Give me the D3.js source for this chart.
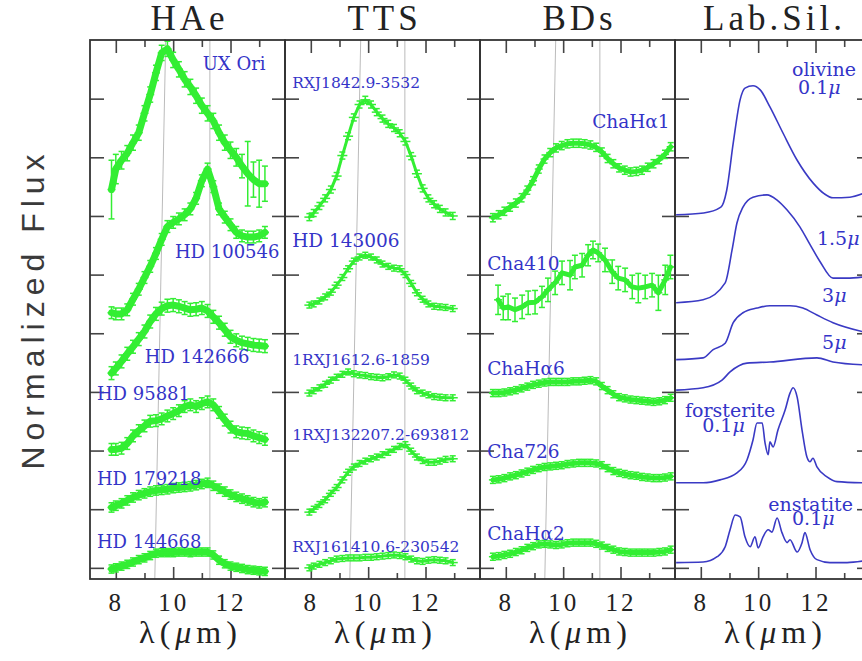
<!DOCTYPE html>
<html>
<head>
<meta charset="utf-8">
<title>Silicate emission features</title>
<script src="https://d3js.org/d3.v7.min.js"></script>
<style>
  body { margin: 0; background: #fff; }
  .title { font-family: "Liberation Serif", serif; font-size: 35px; fill: #222; letter-spacing: 4px; }
  .tick text { font-family: "Liberation Serif", serif; font-size: 25px; fill: #222; letter-spacing: 3px; }
  .tick line { stroke: #444; stroke-width: 1.6; }
  .xlab { font-family: "Liberation Serif", serif; font-size: 32px; fill: #222; letter-spacing: 5px; }
  .ylab { font-family: "Liberation Sans", sans-serif; font-size: 32px; fill: #3a3a3a; letter-spacing: 6px; }
  .name { font-family: "DejaVu Serif", serif; fill: #3434c8; }
  .frame { fill: none; stroke: #333; stroke-width: 1.8; }
  .guide { stroke: #bbb; stroke-width: 1; }
  .spec { fill: none; stroke: #3e3; stroke-linejoin: round; stroke-linecap: round; }
  .bar { stroke: #3e3; stroke-width: 1.5; }
  .lab { fill: none; stroke: #3a3ac4; stroke-width: 1.6; }
</style>
</head>
<body>
<div id="chart"></div>
<script>
// wavelength grids (micron)
var gridHAe = [7.85,8.0,8.2,8.4,8.6,8.8,9.0,9.2,9.4,9.6,9.8,10.0,10.2,10.4,10.6,10.8,11.0,11.2,11.4,11.6,11.8,12.0,12.2,12.4,12.6,12.8,13.0,13.2];
var gridTTS = [7.95,8.1,8.3,8.5,8.7,8.9,9.1,9.3,9.5,9.7,9.9,10.1,10.3,10.5,10.7,10.9,11.1,11.3,11.5,11.7,11.9,12.1,12.3,12.5,12.7,12.95];
var gridBD = [7.55,7.75,7.95,8.15,8.35,8.55,8.75,8.95,9.15,9.35,9.55,9.75,9.95,10.15,10.35,10.55,10.75,10.95,11.15,11.35,11.55,11.75,11.95,12.15,12.35,12.55,12.75,12.95,13.15,13.35,13.55,13.75];

// HAe stars (normalized flux + offset)
var uxOri = [6.45,6.8,6.95,7.07,7.25,7.42,7.75,8.07,8.44,8.78,8.85,8.66,8.5,8.33,8.2,8.05,7.88,7.75,7.62,7.42,7.25,7.12,7.0,6.85,6.72,6.62,6.55,6.55];
var uxOriErr = [0.5,0.25,0.15,0.13,0.13,0.13,0.13,0.13,0.13,0.13,0.13,0.13,0.13,0.13,0.13,0.13,0.13,0.13,0.13,0.13,0.13,0.14,0.15,0.2,0.55,0.3,0.4,0.3];
var hd100546 = [4.35,4.33,4.33,4.4,4.58,4.75,4.95,5.14,5.36,5.6,5.82,5.89,5.95,6.02,6.12,6.3,6.6,6.8,6.5,6.12,5.98,5.85,5.72,5.66,5.64,5.64,5.66,5.72];
var hd142666 = [3.32,3.4,3.52,3.65,3.77,3.9,4.03,4.2,4.33,4.42,4.47,4.48,4.46,4.43,4.4,4.41,4.43,4.38,4.28,4.18,4.06,3.94,3.88,3.84,3.82,3.8,3.79,3.78];
var hd95881 = [2.02,2.02,2.04,2.12,2.25,2.34,2.42,2.5,2.51,2.54,2.59,2.63,2.68,2.75,2.78,2.75,2.8,2.83,2.78,2.65,2.52,2.4,2.32,2.3,2.29,2.25,2.22,2.19];
var hd179218 = [1.03,1.06,1.1,1.15,1.2,1.24,1.27,1.3,1.32,1.33,1.34,1.36,1.37,1.38,1.39,1.41,1.43,1.45,1.4,1.35,1.3,1.25,1.21,1.18,1.15,1.12,1.1,1.12];
var hd144668 = [-0.02,0.0,0.03,0.06,0.1,0.14,0.17,0.21,0.25,0.26,0.26,0.26,0.27,0.27,0.26,0.27,0.27,0.27,0.22,0.13,0.07,0.03,0.01,-0.01,-0.03,-0.04,-0.05,-0.06];

// T Tauri stars
var rxj1842 = [5.98,6.05,6.17,6.3,6.45,6.68,7.03,7.36,7.68,7.9,7.98,7.9,7.77,7.66,7.57,7.5,7.41,7.27,7.02,6.72,6.47,6.3,6.2,6.12,6.06,6.0];
var hd143006 = [4.48,4.5,4.55,4.62,4.7,4.82,4.95,5.1,5.23,5.3,5.33,5.3,5.25,5.18,5.14,5.11,5.1,5.0,4.85,4.69,4.58,4.5,4.46,4.45,4.44,4.42];
var rxj1612 = [2.98,3.02,3.07,3.13,3.2,3.25,3.3,3.34,3.31,3.29,3.28,3.26,3.25,3.24,3.26,3.29,3.27,3.2,3.1,3.02,2.98,2.95,2.92,2.91,2.9,2.9];
var rxj132207 = [0.95,1.0,1.08,1.16,1.27,1.37,1.5,1.63,1.72,1.78,1.82,1.86,1.89,1.93,1.97,2.02,2.07,2.1,1.99,1.89,1.83,1.8,1.8,1.82,1.85,1.86];
var rxj161410 = [0.0,0.03,0.06,0.09,0.12,0.15,0.16,0.17,0.17,0.17,0.18,0.18,0.19,0.2,0.21,0.22,0.21,0.19,0.15,0.12,0.11,0.13,0.14,0.13,0.12,0.09];

// brown dwarfs
var chaHa1 = [5.97,6.02,6.08,6.15,6.22,6.31,6.44,6.6,6.8,6.97,7.08,7.16,7.2,7.23,7.24,7.24,7.23,7.21,7.17,7.09,6.98,6.89,6.82,6.78,6.75,6.76,6.78,6.83,6.89,6.96,7.05,7.18];
var cha410X = [7.73,7.91,8.08,8.32,8.57,8.78,9.02,9.26,9.47,9.72,9.96,10.24,10.41,10.66,10.87,11.04,11.22,11.46,11.71,11.92,12.16,12.41,12.62,12.86,13.1,13.32,13.56,13.74];
var cha410 = [4.57,4.43,4.45,4.4,4.45,4.52,4.53,4.62,4.74,4.86,5.03,4.99,5.13,5.16,5.33,5.42,5.37,5.25,5.05,4.94,4.91,4.79,4.77,4.79,4.82,4.69,4.91,5.13];
var cha410Err = [0.25,0.2,0.22,0.2,0.2,0.2,0.2,0.18,0.2,0.2,0.2,0.25,0.2,0.2,0.18,0.15,0.15,0.2,0.2,0.2,0.2,0.2,0.25,0.2,0.2,0.3,0.25,0.2];
var chaHa6 = [2.98,2.98,2.99,3.01,3.03,3.06,3.09,3.12,3.14,3.16,3.17,3.17,3.17,3.17,3.18,3.18,3.19,3.2,3.18,3.1,3.03,2.96,2.91,2.89,2.87,2.86,2.85,2.84,2.83,2.84,2.86,2.9];
var cha726 = [1.5,1.51,1.53,1.56,1.58,1.61,1.64,1.67,1.7,1.72,1.73,1.74,1.75,1.77,1.78,1.79,1.79,1.79,1.78,1.75,1.7,1.65,1.62,1.6,1.58,1.57,1.55,1.54,1.53,1.53,1.54,1.56];
var chaHa2 = [0.19,0.2,0.22,0.24,0.27,0.3,0.34,0.37,0.4,0.41,0.4,0.39,0.4,0.42,0.43,0.43,0.43,0.43,0.41,0.38,0.34,0.31,0.28,0.27,0.26,0.26,0.26,0.26,0.26,0.27,0.28,0.31];

// laboratory silicates
var olivine01X = [7.14,8.1,8.7,8.9,9.13,9.37,9.54,9.82,10.07,10.41,10.87,11.36,11.92,12.3,12.61,13.2,13.7];
var olivine01 = [6.02,6.05,6.15,6.43,7.24,7.98,8.18,8.22,8.15,7.86,7.41,6.95,6.56,6.38,6.31,6.32,6.39];
var olivine15X = [7.14,8.08,8.85,9.09,9.26,9.47,9.82,10.31,10.66,11.01,11.46,11.81,12.16,12.61,13.1,13.7];
var olivine15 = [4.52,4.57,4.86,5.42,5.88,6.15,6.32,6.36,6.27,6.1,5.81,5.51,5.22,4.94,4.94,4.96];
var olivine3X = [7.14,8.08,8.43,8.85,9.13,9.47,9.96,10.41,11.11,11.56,12.05,12.61,13.7];
var olivine3 = [3.55,3.58,3.72,3.83,4.18,4.35,4.43,4.47,4.47,4.43,4.31,4.18,4.02];
var olivine5X = [7.14,8.08,8.74,9.02,9.61,10.41,12.05,12.61,13.7];
var olivine5 = [3.03,3.07,3.2,3.34,3.49,3.51,3.58,3.51,3.46];
var forsteriteX = [7.14,8.08,8.67,9.26,9.61,9.82,9.96,10.14,10.24,10.35,10.41,10.52,10.69,10.94,11.11,11.22,11.36,11.53,11.7,11.81,11.91,12.05,12.4,12.75,13.7];
var forsterite = [1.45,1.45,1.5,1.62,1.84,2.18,2.47,2.47,2.13,1.93,2.15,2.06,2.35,2.69,2.98,3.07,2.91,2.35,1.89,1.81,1.87,1.72,1.55,1.47,1.45];
var enstatiteX = [7.14,8.08,8.57,8.85,9.02,9.2,9.37,9.54,9.72,9.89,10.0,10.17,10.35,10.48,10.66,10.83,11.01,11.11,11.36,11.53,11.63,11.81,12.05,12.5,13.1,13.7];
var enstatite = [0.09,0.1,0.19,0.36,0.65,0.9,0.87,0.53,0.36,0.53,0.34,0.53,0.65,0.61,0.85,0.6,0.43,0.48,0.27,0.43,0.6,0.31,0.14,0.09,0.09,0.12];

// axes
var panelTitles = ["HAe", "TTS", "BDs", "Lab.Sil."];
var majorTicks = [8, 10, 12];
var minorTicks = [9, 11, 13];
var yTicks = [0, 1, 2, 3, 4, 5, 6, 7, 8];
var guideTop = [9.74, 11.28];
var guideBottom = [9.36, 11.28];

var chartW = 862, chartH = 661;
var panelLeft = 90, panelW = 195, frameTop = 40, frameBottom = 579;

var svg = d3.select("#chart").append("svg")
    .attr("width", chartW)
    .attr("height", chartH);

var x = d3.scaleLinear().domain([7.1, 13.9]).range([0, panelW]);
var y = d3.scaleLinear().domain([-0.19, 9]).range([frameBottom, frameTop]);

// band = stroke width of the joined points, arm = half width of the crosses
var panels = [
  { band: 7, arm: 4,
    green: [
      {x: gridHAe, y: uxOri, err: uxOriErr},
      {x: gridHAe, y: hd100546, err: 0.1},
      {x: gridHAe, y: hd142666, err: 0.11},
      {x: gridHAe, y: hd95881, err: 0.1},
      {x: gridHAe, y: hd179218, err: 0.08},
      {x: gridHAe, y: hd144668, err: 0.07}],
    names: [
      {t: "UX Ori", x: 11.03, y: 8.49, s: 18},
      {t: "HD 100546", x: 10.06, y: 5.28, s: 18},
      {t: "HD 142666", x: 9.01, y: 3.49, s: 18},
      {t: "HD 95881", x: 7.34, y: 2.86, s: 18},
      {t: "HD 179218", x: 7.34, y: 1.41, s: 18},
      {t: "HD 144668", x: 7.34, y: 0.34, s: 18}] },
  { band: 3, arm: 5,
    green: [
      {x: gridTTS, y: rxj1842, err: 0.06},
      {x: gridTTS, y: hd143006, err: 0.05},
      {x: gridTTS, y: rxj1612, err: 0.05},
      {x: gridTTS, y: rxj132207, err: 0.05},
      {x: gridTTS, y: rxj161410, err: 0.05}],
    names: [
      {t: "RXJ1842.9-3532", x: 7.35, y: 8.18, s: 15.5},
      {t: "HD 143006", x: 7.35, y: 5.47, s: 18.5},
      {t: "1RXJ1612.6-1859", x: 7.35, y: 3.46, s: 15.5},
      {t: "1RXJ132207.2-693812", x: 7.35, y: 2.18, s: 15.5},
      {t: "RXJ161410.6-230542", x: 7.35, y: 0.27, s: 15.5}] },
  { band: 5, arm: 4,
    green: [
      {x: gridBD, y: chaHa1, err: 0.07},
      {x: cha410X, y: cha410, err: cha410Err},
      {x: gridBD, y: chaHa6, err: 0.06},
      {x: gridBD, y: cha726, err: 0.06},
      {x: gridBD, y: chaHa2, err: 0.06}],
    names: [
      {t: "ChaHα1", x: 11.01, y: 7.5, s: 18.5},
      {t: "Cha410", x: 7.35, y: 5.08, s: 18.5},
      {t: "ChaHα6", x: 7.35, y: 3.29, s: 18.5},
      {t: "Cha726", x: 7.35, y: 1.87, s: 18.5},
      {t: "ChaHα2", x: 7.35, y: 0.48, s: 18.5}] },
  { blue: [
      {x: olivine01X, y: olivine01},
      {x: olivine15X, y: olivine15},
      {x: olivine3X, y: olivine3},
      {x: olivine5X, y: olivine5},
      {x: forsteriteX, y: forsterite},
      {x: enstatiteX, y: enstatite}],
    names: [
      {t: "olivine", x: 11.18, y: 8.39, s: 19},
      {t: "0.1|μ", x: 11.39, y: 8.08, s: 19},
      {t: "1.5|μ", x: 12.05, y: 5.5, s: 19},
      {t: "3|μ", x: 12.23, y: 4.53, s: 19},
      {t: "5|μ", x: 12.23, y: 3.73, s: 19},
      {t: "forsterite", x: 7.45, y: 2.57, s: 19},
      {t: "0.1|μ", x: 8.05, y: 2.32, s: 19},
      {t: "enstatite", x: 10.35, y: 0.97, s: 19},
      {t: "0.1|μ", x: 11.18, y: 0.73, s: 19}] }
];

panels.forEach(function(p, i) {
  var g = svg.append("g").attr("transform", "translate(" + (panelLeft + i * panelW) + ",0)");

  // slanted reference lines for the 9.7 / 11.3 micron features
  if (p.green) {
    g.selectAll(".guide").data(guideTop).enter().append("line")
      .attr("class", "guide")
      .attr("x1", function(d) { return x(d); }).attr("y1", frameTop)
      .attr("x2", function(d, j) { return x(guideBottom[j]); }).attr("y2", frameBottom);
  }

  // ticks, inward on all four sides
  var tb = g.append("g").attr("transform", "translate(0," + frameBottom + ")");
  tb.call(d3.axisBottom(x).tickValues(majorTicks).tickSizeInner(-12).tickSizeOuter(0)
    .tickPadding(14).tickFormat(d3.format("d")));
  tb.append("g").call(d3.axisBottom(x).tickValues(minorTicks).tickSizeInner(-6).tickSizeOuter(0).tickFormat(""));
  var tt = g.append("g").attr("transform", "translate(0," + frameTop + ")");
  tt.call(d3.axisTop(x).tickValues(majorTicks).tickSizeInner(-13).tickSizeOuter(0).tickFormat(""));
  tt.append("g").call(d3.axisTop(x).tickValues(minorTicks).tickSizeInner(-7).tickSizeOuter(0).tickFormat(""));
  g.append("g").call(d3.axisLeft(y).tickValues(yTicks).tickSizeInner(-14).tickSizeOuter(0).tickFormat(""));
  g.append("g").attr("transform", "translate(" + panelW + ",0)")
    .call(d3.axisRight(y).tickValues(yTicks).tickSizeInner(-13).tickSizeOuter(0).tickFormat(""));
  g.selectAll(".domain").remove();

  // observed spectra: thick joined band plus error-bar crosses
  (p.green || []).forEach(function(s) {
    var pts = s.x.map(function(v, k) {
      return {x: v, y: s.y[k], e: Array.isArray(s.err) ? s.err[k] : s.err};
    });
    g.append("path").datum(pts).attr("class", "spec")
      .style("stroke-width", p.band)
      .attr("d", d3.line().x(function(d) { return x(d.x); }).y(function(d) { return y(d.y); }));
    var c = g.append("g").selectAll("g").data(pts).enter().append("g");
    c.append("line").attr("class", "bar")
      .attr("x1", function(d) { return x(d.x); }).attr("x2", function(d) { return x(d.x); })
      .attr("y1", function(d) { return y(d.y - d.e); }).attr("y2", function(d) { return y(d.y + d.e); });
    c.append("line").attr("class", "bar")
      .attr("x1", function(d) { return x(d.x) - p.arm; }).attr("x2", function(d) { return x(d.x) + p.arm; })
      .attr("y1", function(d) { return y(d.y); }).attr("y2", function(d) { return y(d.y); });
    c.each(function(d) {
      var cg = d3.select(this);
      [d.y - d.e, d.y + d.e].forEach(function(v) {
        cg.append("line").attr("class", "bar")
          .attr("x1", x(d.x) - 3).attr("x2", x(d.x) + 3)
          .attr("y1", y(v)).attr("y2", y(v));
      });
    });
  });

  // lab silicate profiles
  (p.blue || []).forEach(function(s) {
    var pts = s.x.map(function(v, k) { return [v, s.y[k]]; });
    g.append("path").datum(pts).attr("class", "lab")
      .attr("d", d3.line().curve(d3.curveMonotoneX)
        .x(function(d) { return x(d[0]); }).y(function(d) { return y(d[1]); }));
  });

  // object names
  p.names.forEach(function(n) {
    var t = g.append("text").attr("class", "name")
      .attr("x", x(n.x)).attr("y", y(n.y))
      .style("font-size", n.s + "px");
    var parts = n.t.split("|");
    t.append("tspan").text(parts[0]);
    if (parts[1]) t.append("tspan").style("font-style", "italic").text(parts[1]);
  });

  g.append("rect").attr("class", "frame")
    .attr("x", 0).attr("y", frameTop).attr("width", panelW).attr("height", frameBottom - frameTop);

  g.append("text").attr("class", "title")
    .attr("x", panelW / 2 + 2).attr("y", 30)
    .attr("text-anchor", "middle")
    .text(panelTitles[i]);

  var xl = g.append("text").attr("class", "xlab")
    .attr("x", panelW / 2 + 3).attr("y", 643)
    .attr("text-anchor", "middle");
  xl.append("tspan").text("λ(");
  xl.append("tspan").style("font-style", "italic").text("μ");
  xl.append("tspan").text("m)");
});

svg.append("text").attr("class", "ylab")
  .attr("transform", "translate(44,309) rotate(-90)")
  .attr("text-anchor", "middle")
  .text("Normalized Flux");
</script>
</body>
</html>
